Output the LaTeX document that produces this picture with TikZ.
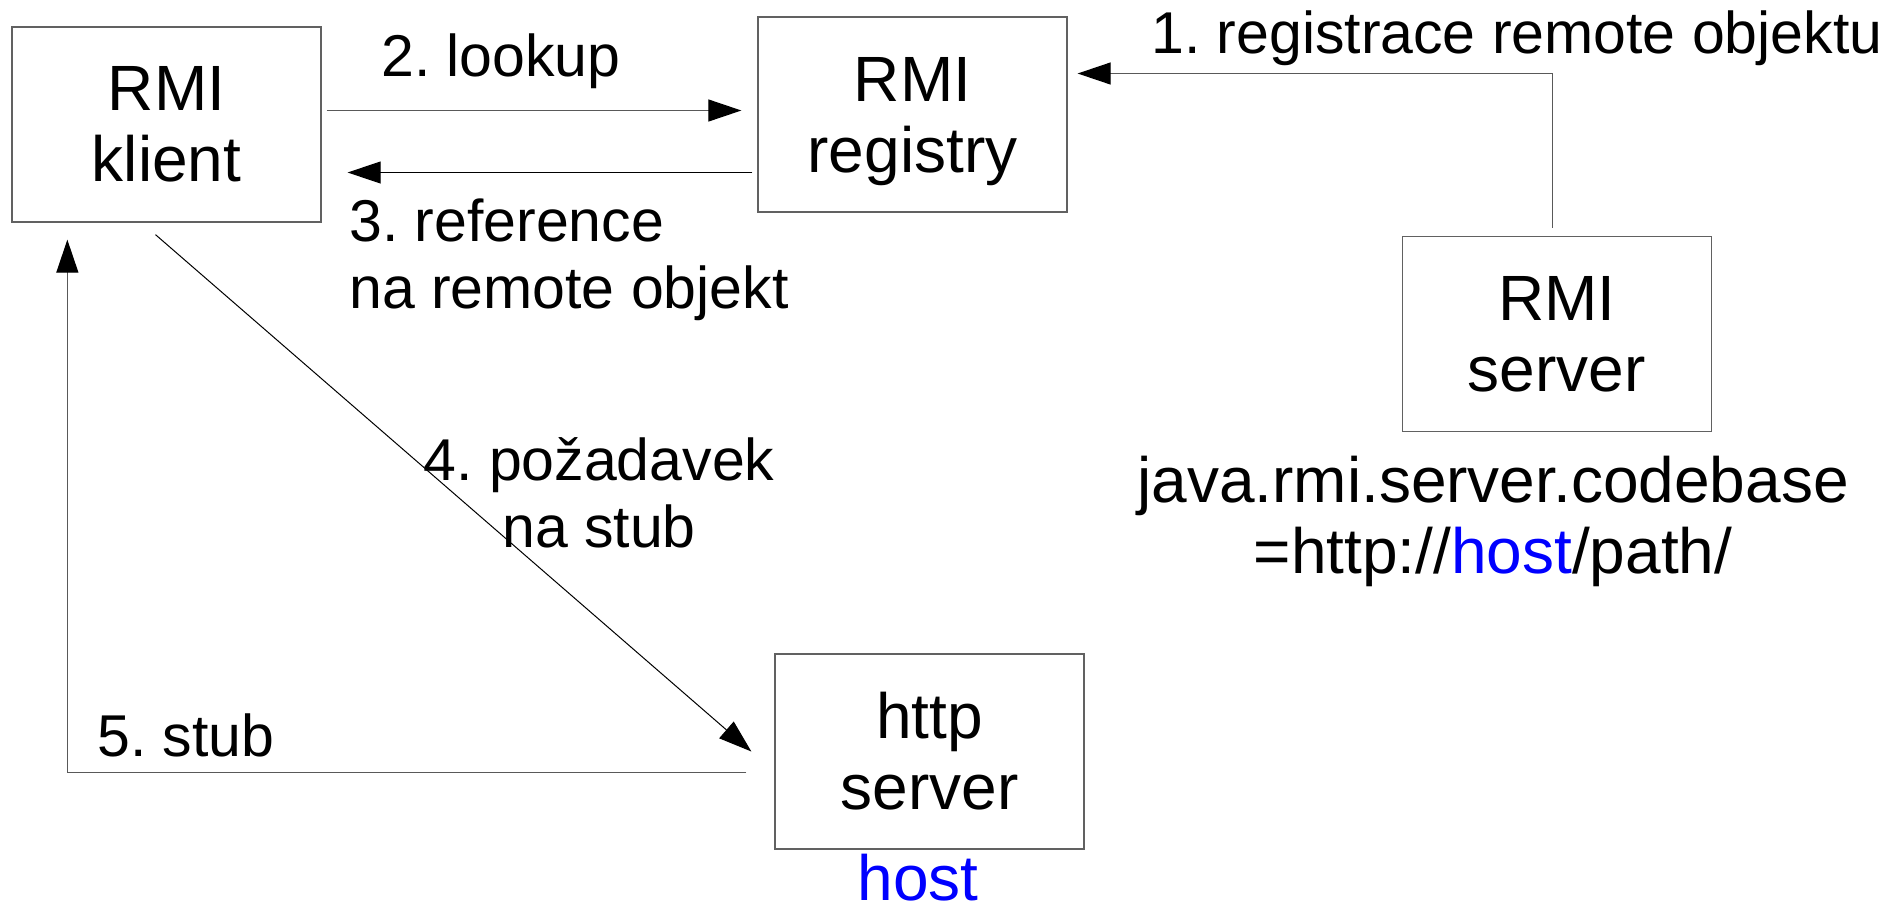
\documentclass[tikz,border=0pt]{standalone}
\usepackage{fontspec}
\setmainfont{Liberation Sans}
\usetikzlibrary{arrows.meta}
\definecolor{hostblue}{RGB}{0,0,255}
\newcommand\boxfont{\fontsize{64pt}{71pt}\selectfont\frenchspacing}
\newcommand\lblfont{\fontsize{59pt}{67pt}\selectfont\frenchspacing}
\begin{document}
\begin{tikzpicture}[x=1pt,y=-1pt,
  box/.style={draw=black!62, line width=1.3pt, minimum width=309pt, minimum height=195pt,
    inner sep=0pt, align=center, font=\boxfont},
  lbl/.style={inner sep=0pt, font=\lblfont},
  conn/.style={line width=1.2pt, draw=black!65, -{Triangle[length=33pt,width=22pt,color=black]}},
  thin conn/.style={line width=1pt, draw=black, -{Triangle[length=33pt,width=22pt,color=black]}}]
\useasboundingbox (0,0) rectangle (1892,908);
\node[box] (klient) at (166.5,124.5) {RMI\\klient};
\node[box] (registry) at (912.5,114.5) {RMI\\\smash{registry}};
\node[box] (server) at (1556.7,334) {RMI\\server};
\node[box] (http) at (929.5,751.5) {http\\server};
% labels
\node[lbl, anchor=base west] (l2) at (381,76) {2. lookup};
\node[lbl, anchor=north west, align=left] (l3) at (349,199) {3. reference\\na remote objekt};
\node[lbl, anchor=base west] (l1) at (1151,53) {1. registrace remote objektu};
\node[lbl, anchor=north, align=center] (l4) at (599,437) {4. požadavek\\na stub};
\node[lbl, anchor=base west] (l5) at (97,756) {5. stub};
\node[inner sep=0pt, font=\boxfont, text=hostblue, anchor=base] (host) at (918,900) {host};
\node[inner sep=0pt, font=\boxfont, anchor=north, align=center] (codebase) at (1493,456)
  {java.rmi.server.codebase\\=http://\textcolor{hostblue}{host}/path/};
% connectors
\draw[conn] ([xshift=-4pt,yshift=8pt]server.north) |- ([xshift=10pt,yshift=41pt]registry.east);
\draw[conn] ([xshift=5pt,yshift=14pt]klient.east) -- ([xshift=-16pt,yshift=4pt]registry.west);
\draw[thin conn] ([xshift=-5pt,yshift=-58pt]registry.west) -- ([xshift=26pt,yshift=-48pt]klient.east);
\draw[thin conn] ([xshift=-11pt,yshift=-12pt]klient.south) -- ([xshift=-23pt]http.west);
\draw[conn] ([xshift=-28pt,yshift=-21pt]http.west) -| ([xshift=56pt,yshift=-17pt]klient.south west);
\end{tikzpicture}
\end{document}
